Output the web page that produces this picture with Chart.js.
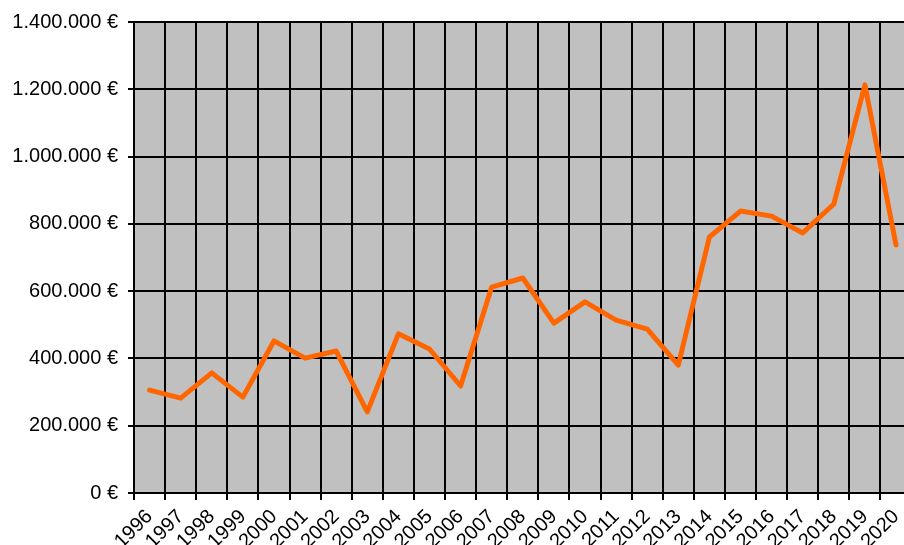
<!DOCTYPE html>
<html>
<head>
<meta charset="utf-8">
<script src="https://cdn.jsdelivr.net/npm/chart.js@4/dist/chart.umd.min.js"></script>
<style>
html,body{margin:0;padding:0;background:#fff;overflow:hidden;}
#wrap{width:904px;height:545px;overflow:hidden;position:relative;}
canvas{display:block;}
</style>
</head>
<body>
<div id="wrap"><canvas id="c" width="918" height="545"></canvas></div>
<script>
const years = ["1996","1997","1998","1999","2000","2001","2002","2003","2004","2005","2006","2007","2008","2009","2010","2011","2012","2013","2014","2015","2016","2017","2018","2019","2020"];
const amounts = [306000,282000,357000,285000,452000,401000,422000,241000,473000,428000,318000,612000,639000,505000,568000,514000,487000,380000,761000,838000,823000,773000,859000,1213000,737000];
const yTicks = [0,200000,400000,600000,800000,1000000,1200000,1400000];

function fmtEuro(v){
  return String(Math.round(v)).replace(/\B(?=(\d{3})+(?!\d))/g, ".") + " €";
}

const bgPlugin = {
  id: 'plotBg',
  beforeDraw(chart){
    const {ctx, chartArea:a} = chart;
    ctx.save();
    ctx.fillStyle = '#c0c0c0';
    ctx.fillRect(a.left, a.top, a.right - a.left, a.bottom - a.top);
    ctx.restore();
  }
};

new Chart(document.getElementById('c'), {
  type: 'line',
  data: {
    labels: years,
    datasets: [{
      data: amounts,
      borderColor: '#ff6600',
      borderWidth: 5,
      pointRadius: 0,
      tension: 0,
      borderCapStyle: 'round',
      borderJoinStyle: 'round',
      fill: false
    }]
  },
  options: {
    responsive: false,
    animation: false,
    layout: { padding: { left: 0, top: 22, right: 0, bottom: 0 } },
    plugins: { legend: { display: false }, tooltip: { enabled: false } },
    scales: {
      x: {
        offset: true,
        afterFit(scale){ scale.height = 52; },
        grid: { offset: true, color: '#000', lineWidth: 2, tickLength: 7, drawTicks: true },
        border: { color: '#000', width: 2 },
        ticks: {
          color: '#000',
          font: { family: 'Liberation Sans, Arial, sans-serif', size: 20 },
          maxRotation: 45, minRotation: 45, autoSkip: false, padding: 5
        }
      },
      y: {
        min: 0, max: 1400000,
        afterFit(scale){ scale.width = 134; },
        afterBuildTicks(axis){ axis.ticks = yTicks.map(v => ({value: v})); },
        grid: { color: '#000', lineWidth: 2, tickLength: 6 },
        border: { color: '#000', width: 2 },
        ticks: {
          color: '#000',
          font: { family: 'Liberation Sans, Arial, sans-serif', size: 20 },
          padding: 10,
          callback: (v) => fmtEuro(v)
        }
      }
    }
  },
  plugins: [bgPlugin]
});
</script>
</body>
</html>
